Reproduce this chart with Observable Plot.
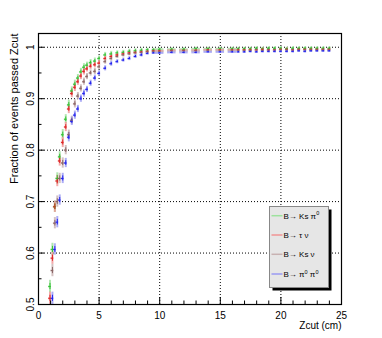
<!DOCTYPE html>
<html>
<head>
<meta charset="utf-8">
<script src="https://cdn.jsdelivr.net/npm/d3@7"></script>
<script src="https://cdn.jsdelivr.net/npm/@observablehq/plot@0.6"></script>
<style>
  html, body { margin: 0; padding: 0; background: #fff; }
  #chart { position: relative; width: 382px; height: 338px; }
</style>
</head>
<body>
<div id="chart"></div>
<script>
// ---- data ----
const zcut = [0.95,1.15,1.35,1.55,1.75,2.0,2.25,2.5,2.75,3.0,3.25,3.5,3.75,4.0,4.3,4.65,
  5.0,5.5,6.0,6.5,7.0,7.5,8.0,8.5,9.0,9.5,
  10,11,12,13,14,15,16,
  16.5,17,17.5,18,18.5,19,19.5,20,20.5,21,21.5,22,22.5,23,23.5,24,24.5];
const zcutErr = [0.12,0.12,0.12,0.12,0.12,0.12,0.12,0.12,0.12,0.12,0.12,0.12,0.12,0.12,0.12,0.12,
  0.12,0.12,0.12,0.12,0.12,0.12,0.12,0.12,0.12,0.12,
  0.35,0.35,0.35,0.35,0.35,0.35,0.35,
  0.12,0.12,0.12,0.12,0.12,0.12,0.12,0.12,0.12,0.12,0.12,0.12,0.12,0.12,0.12,0.12,0.12];
const fracErr = [0.012,0.012,0.011,0.011,0.010,0.010,0.009,0.009,0.008,0.008,0.007,0.007,0.007,0.006,0.006,0.006,
  0.005,0.005,0.005,0.004,0.004,0.004,0.004,0.004,0.003,0.003,
  0.003,0.003,0.003,0.003,0.003,0.003,0.003,
  0.003,0.003,0.003,0.003,0.003,0.003,0.003,0.003,0.003,0.003,0.003,0.003,0.003,0.003,0.003,0.003,0.003];

const kspi0 = [0.535,0.607,0.690,0.745,0.787,0.830,0.860,0.888,0.915,0.928,0.940,0.952,0.961,0.965,0.970,0.973,
  0.978,0.985,0.987,0.989,0.990,0.992,0.993,0.994,0.995,0.995,
  0.996,0.996,0.996,0.997,0.997,0.997,0.997,
  0.997,0.997,0.997,0.998,0.997,0.998,0.998,0.998,0.997,0.998,0.998,0.998,0.998,0.998,0.998,0.998];
const taunu = [0.512,0.590,0.690,0.740,0.779,0.815,0.845,0.880,0.910,0.922,0.933,0.944,0.953,0.958,0.963,0.966,
  0.969,0.978,0.982,0.985,0.987,0.989,0.990,0.991,0.992,0.993,
  0.993,0.994,0.994,0.994,0.995,0.995,0.995,
  0.995,0.995,0.995,0.995,0.996,0.995,0.995,0.996,0.996,0.995,0.996,0.996,0.996,0.996,0.996,0.996];
const ksnu = [null,0.566,0.658,0.700,0.745,0.775,0.800,0.830,0.858,0.890,0.905,0.920,0.933,0.943,0.950,0.953,
  0.962,0.972,0.978,0.982,0.985,0.987,0.989,0.990,0.991,0.992,
  0.992,0.993,0.993,0.993,0.994,0.994,0.994,
  0.994,0.994,0.994,0.995,0.994,0.995,0.995,0.995,0.995,0.995,0.995,0.995,0.995,0.995,0.995,0.995];
const pi0pi0 = [null,0.512,0.607,0.660,0.703,0.745,0.775,0.825,0.856,0.868,0.880,0.900,0.910,0.918,0.930,0.940,
  0.949,0.959,0.968,0.972,0.975,0.978,0.982,0.985,0.988,0.989,
  0.989,0.990,0.990,0.990,0.991,0.991,0.991,
  0.991,0.991,0.992,0.991,0.992,0.992,0.992,0.992,0.992,0.992,0.993,0.992,0.993,0.993,0.993,0.993];

const seriesValues = [kspi0, taunu, ksnu, pi0pi0];
const darkColors = ["#33c033","#dd2222","#8a6464","#2020ee"];
const paleColors = ["#9ee29e","#f09494","#c8b2b2","#9a9af2"];

const xTicks = [0,5,10,15,20,25];
const xMinor = [1,2,3,4,6,7,8,9,11,12,13,14,16,17,18,19,21,22,23,24];
const yTicks = [0.5,0.6,0.7,0.8,0.9,1];
const yMinor = [0.55,0.65,0.75,0.85,0.95];
const yTickLabels = ["0.5","0.6","0.7","0.8","0.9","1"];

// ---- build rows ----
const rows = [];
seriesValues.forEach((vals, k) => {
  vals.forEach((v, i) => {
    if (v != null) rows.push({x: zcut[i], y: v, ex: zcutErr[i], ey: fracErr[i], dark: darkColors[k], pale: paleColors[k]});
  });
});

const W = 382, H = 338;
const mL = 38, mR = 41, mT = 33, mB = 34;
const yPerPx = (1.0267 - 0.5) / (H - mT - mB);
const xPerPx = 25 / (W - mL - mR);

const font = "'Liberation Sans', Arial, Helvetica, sans-serif";

const plot = Plot.plot({
  width: W, height: H,
  marginLeft: mL, marginRight: mR, marginTop: mT, marginBottom: mB,
  style: {fontFamily: font, background: "#fff"},
  x: {domain: [0, 25], axis: null},
  y: {domain: [0.5, 1.0267], axis: null},
  color: {type: "identity"},
  marks: [
    // grid
    Plot.ruleY(yTicks.filter(d => d > 0.5), {y: d => d, stroke: "#000", strokeDasharray: "1,2", strokeWidth: 1}),
    Plot.ruleX(xTicks.filter(d => d > 0 && d < 25), {x: d => d, stroke: "#000", strokeDasharray: "1,2", strokeWidth: 1}),
    // error bars
    Plot.ruleX(rows, {x: "x", y1: d => d.y - d.ey, y2: d => d.y + d.ey, stroke: "pale", strokeWidth: 2, strokeOpacity: 0.8, clip: true}),
    Plot.ruleY(rows, {y: "y", x1: d => d.x - d.ex, x2: d => d.x + d.ex, stroke: "pale", strokeWidth: 2, strokeOpacity: 0.8, clip: true}),
    Plot.ruleX(rows, {x: "x", y1: d => d.y - d.ey * 0.5, y2: d => d.y + d.ey * 0.5, stroke: "dark", strokeWidth: 1, clip: true}),
    Plot.ruleY(rows, {y: "y", x1: d => d.x - 0.1, x2: d => d.x + 0.1, stroke: "dark", strokeWidth: 1, clip: true}),
    // ticks (inside)
    Plot.ruleY(yTicks, {y: d => d, x1: 0, x2: 6 * xPerPx, stroke: "#000", strokeWidth: 1}),
    Plot.ruleY(yMinor, {y: d => d, x1: 0, x2: 3.5 * xPerPx, stroke: "#000", strokeWidth: 1}),
    Plot.ruleX(xTicks, {x: d => d, y1: 0.5, y2: 0.5 + 7 * yPerPx, stroke: "#000", strokeWidth: 1}),
    Plot.ruleX(xMinor, {x: d => d, y1: 0.5, y2: 0.5 + 3.5 * yPerPx, stroke: "#000", strokeWidth: 1}),
    // frame
    Plot.frame({stroke: "#000", strokeWidth: 1.2}),
    // tick labels
    Plot.text(yTicks, {y: d => d, text: (d, i) => yTickLabels[i], frameAnchor: "left", dx: -8, rotate: -90, textAnchor: "middle", lineAnchor: "middle", fontSize: 10, fill: "#000"}),
    Plot.text(xTicks, {x: d => d, text: d => String(d), frameAnchor: "bottom", dy: 11, textAnchor: "middle", lineAnchor: "middle", fontSize: 10, fill: "#000"}),
    // axis titles
    Plot.text(["Zcut (cm)"], {frameAnchor: "bottom-right", dy: 21, dx: 0, textAnchor: "end", lineAnchor: "middle", fontSize: 10, fill: "#000"}),
    Plot.text(["Fraction of events passed Zcut"], {frameAnchor: "top-left", dx: -24, dy: 0, rotate: -90, textAnchor: "end", lineAnchor: "middle", fontSize: 11, fill: "#000"})
  ]
});

document.getElementById("chart").appendChild(plot);

// ---- legend (drawn into the SVG) ----
const svg = d3.select(plot);
const lg = svg.append("g").attr("font-family", font).attr("font-size", 8).attr("text-anchor", "start");
const bx = 269.5, by = 206.5, bw = 59, bh = 81;
lg.append("rect").attr("x", bx + 3).attr("y", by + 3).attr("width", bw).attr("height", bh).attr("fill", "#000");
lg.append("rect").attr("x", bx).attr("y", by).attr("width", bw).attr("height", bh).attr("fill", "#e6e6e6").attr("stroke", "#888").attr("stroke-width", 1);
const legendLabels = [
  ["B\u2192 Ks \u03c0", "0"],
  ["B\u2192 \u03c4 \u03bd"],
  ["B\u2192 Ks \u03bd"],
  ["B\u2192 \u03c0", "0", " \u03c0", "0"]
];
const rowY = [215.7, 235, 254.3, 274];
legendLabels.forEach((lab, i) => {
  lg.append("line").attr("x1", 271.5).attr("x2", 282.5).attr("y1", rowY[i]).attr("y2", rowY[i])
    .attr("stroke", paleColors[i]).attr("stroke-width", 1.5);
  const t = lg.append("text").attr("x", 283.5).attr("y", rowY[i] + 3).attr("fill", "#000").attr("text-anchor", "start");
  for (let j = 0; j < lab.length; j++) {
    if (j % 2 === 1) {
      t.append("tspan").attr("font-size", 5.5).attr("dy", -3.5).text(lab[j]);
    } else {
      t.append("tspan").attr("dy", j === 0 ? 0 : 3.5).text(lab[j]);
    }
  }
});
</script>
</body>
</html>
